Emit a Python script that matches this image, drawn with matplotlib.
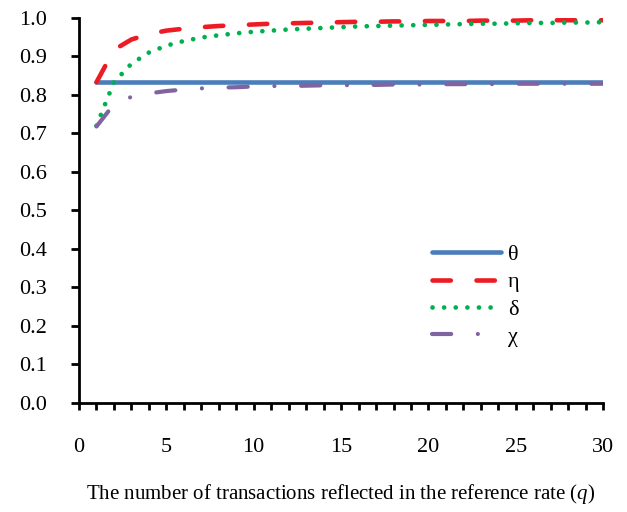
import matplotlib
matplotlib.use("Agg")
import matplotlib.pyplot as plt

plt.rcParams["font.family"] = ["Liberation Serif", "DejaVu Serif"]
plt.rcParams["mathtext.fontset"] = "custom"
plt.rcParams["mathtext.rm"] = "Liberation Serif"
plt.rcParams["mathtext.it"] = "Liberation Serif:italic"

# q = number of transactions reflected in the reference rate
q = list(range(1, 31))

theta = [0.833] * 30
eta = [0.833, 0.917, 0.944, 0.958, 0.967, 0.972, 0.976, 0.979, 0.981, 0.983,
       0.985, 0.986, 0.987, 0.988, 0.989, 0.990, 0.990, 0.991, 0.991, 0.992,
       0.992, 0.992, 0.993, 0.993, 0.993, 0.994, 0.994, 0.994, 0.994, 0.994]
delta = [0.720, 0.833, 0.881, 0.910, 0.928, 0.940, 0.949, 0.955, 0.960, 0.964,
         0.967, 0.970, 0.972, 0.974, 0.976, 0.978, 0.979, 0.980, 0.981, 0.982,
         0.983, 0.984, 0.985, 0.985, 0.986, 0.987, 0.987, 0.988, 0.988, 0.989]
chi = [0.718, 0.776, 0.795, 0.804, 0.810, 0.814, 0.817, 0.819, 0.820, 0.822,
       0.823, 0.823, 0.824, 0.825, 0.825, 0.826, 0.826, 0.827, 0.827, 0.827,
       0.828, 0.828, 0.828, 0.828, 0.829, 0.829, 0.829, 0.829, 0.829, 0.829]

fig = plt.figure(figsize=(6.27, 5.12), dpi=100)
ax = fig.add_axes([0.126, 0.213, 0.836, 0.752])

ax.plot(q, theta, color="#4A7EBB", lw=3.3, solid_capstyle="round", label="θ")
ax.plot(q, eta, color="#ED1C24", lw=3.3, dash_capstyle="round",
        linestyle=(0, (4.0, 5.6)), label="η")
ax.plot(q, delta, color="#00B050", lw=3.4, dash_capstyle="round",
        linestyle=(0, (0.01, 2.45)), label="δ")
ax.plot(q, chi, color="#8064A2", lw=3.0, dash_capstyle="round",
        linestyle=(0, (4.6, 6.4, 0.01, 6.4)), label="χ")

ax.set_xlim(0, 30)
ax.set_ylim(0, 1.0)
ax.set_xticks(range(0, 31, 5))
ax.set_xticks(range(0, 31), minor=True)
ax.set_yticks([i / 10 for i in range(11)])
ax.set_yticklabels([f"{i / 10:.1f}" for i in range(11)])

for s in ["top", "right"]:
    ax.spines[s].set_visible(False)
for s in ["left", "bottom"]:
    ax.spines[s].set_linewidth(2.0)

ax.tick_params(axis="y", direction="out", length=6, width=2.0, pad=17, labelsize=16)
ax.tick_params(axis="x", which="both", direction="out", length=5, width=2.0,
               pad=20, labelsize=16)
ax.tick_params(axis="x", which="minor", labelbottom=False)

ax.set_xlabel("The number of transactions reflected in the reference rate ($q$)",
              fontsize=15, labelpad=18)

ax.legend(loc="upper left", bbox_to_anchor=(0.653, 0.44), frameon=False,
          fontsize=16, handlelength=3.1, handletextpad=0.3, labelspacing=0.3,
          borderpad=0)

fig.savefig("out.png", dpi=100)
